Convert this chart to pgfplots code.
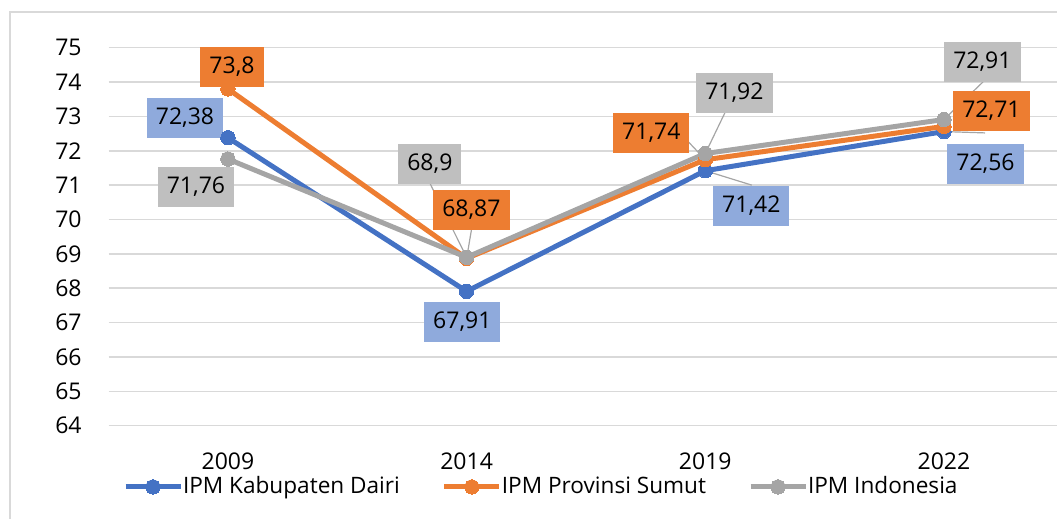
\documentclass[border=0pt]{standalone}
\usepackage{pgfplots}
\pgfplotsset{compat=1.18}
\usepackage{fontspec}
\setmainfont{Open Sans}
\definecolor{cblue}{HTML}{4472C4}
\definecolor{corange}{HTML}{ED7D31}
\definecolor{cgray}{HTML}{A5A5A5}
\definecolor{lblue}{HTML}{8FAADC}
\definecolor{lgray}{HTML}{BFBFBF}
\definecolor{gridc}{HTML}{D9D9D9}
\begin{document}
\fontsize{11.5pt}{13pt}\selectfont
\begin{tikzpicture}
\useasboundingbox (-54.3pt,-46.65pt) rectangle (474.2pt,212.85pt);
\draw[color=gridc, line width=0.75pt] (-49.3pt,-60pt) -- (-49.3pt,206.85pt) -- (500pt,206.85pt);
\begin{axis}[
  scale only axis,
  width=477.35pt, height=189pt,
  xmin=-0.5, xmax=3.5, ymin=64, ymax=75,
  ytick={64,65,...,75},
  xtick={0,1,2,3}, xticklabels={2009,2014,2019,2022},
  axis line style={draw=none},
  major tick length=0pt,
  ymajorgrids, grid style={color=gridc, line width=0.75pt},
  /pgf/number format/assume math mode=true,
  tick label style={font=\fontsize{11.5pt}{13pt}\selectfont},
  xticklabel style={inner sep=0pt, anchor=north, yshift=-13.5pt},
  yticklabel style={inner sep=0pt, anchor=east, xshift=-13.3pt},
  legend columns=3,
  legend style={draw=none, fill=none, inner sep=0pt, outer sep=0pt,
    at={(axis description cs:0.0151,-0.162)}, anchor=west,
    column sep=0pt,
    /tikz/every even column/.append style={column sep=21pt},
    nodes={inner sep=0pt},
    font=\fontsize{11.3pt}{13pt}\selectfont},
  legend image code/.code={\draw[mark repeat=2,mark phase=2,#1] plot coordinates {(0pt,0pt)(13.75pt,0pt)(27.5pt,0pt)};},
  every axis plot/.append style={line width=2.5pt, mark=*, mark size=3.6pt},
  clip=false,
]
% leader lines
\draw[cgray, line width=0.6pt] (axis cs:0.846,71.06) -- (axis cs:1,68.9);
\draw[cgray, line width=0.6pt] (axis cs:1.02,69.69) -- (axis cs:1.0,68.87);
\draw[cgray, line width=0.6pt] (axis cs:1.844,72.52) -- (axis cs:1.894,72.52) -- (axis cs:2,71.74);
\draw[cgray, line width=0.6pt] (axis cs:2.122,73.68) -- (axis cs:2,71.92);
\draw[cgray, line width=0.6pt] (axis cs:2.195,71.0) -- (axis cs:2,71.42);
\draw[cgray, line width=0.6pt] (axis cs:3.163,74.0) -- (axis cs:3,72.91);
\draw[cgray, line width=0.6pt] (axis cs:3.172,72.52) -- (axis cs:3,72.56);

\addplot[cblue, mark options={fill=cblue, draw=cblue, line width=0pt}] coordinates {(0,72.38) (1,67.91) (2,71.42) (3,72.56)};
\addlegendentry{IPM Kabupaten Dairi}
\addplot[corange, mark options={fill=corange, draw=corange, line width=0pt}] coordinates {(0,73.8) (1,68.87) (2,71.74) (3,72.71)};
\addlegendentry{IPM Provinsi Sumut}
\addplot[cgray, mark options={fill=cgray, draw=cgray, line width=0pt}] coordinates {(0,71.76) (1,68.9) (2,71.92) (3,72.91)};
\addlegendentry{IPM Indonesia}

\tikzset{lab/.style={inner xsep=4.5pt, minimum height=20pt, text=black, font=\fontsize{11.5pt}{13pt}\selectfont}}
\node[lab, fill=corange] at (axis cs:0.017,74.44) {73,8};
\node[lab, fill=lblue] at (axis cs:-0.18,72.95) {72,38};
\node[lab, fill=lgray] at (axis cs:-0.134,70.95) {71,76};
\node[lab, fill=lgray] at (axis cs:0.846,71.63) {68,9};
\node[lab, fill=corange] at (axis cs:1.02,70.28) {68,87};
\node[lab, fill=lblue] at (axis cs:0.982,67.02) {67,91};
\node[lab, fill=corange] at (axis cs:1.774,72.52) {71,74};
\node[lab, fill=lgray] at (axis cs:2.122,73.68) {71,92};
\node[lab, fill=lblue] at (axis cs:2.193,70.39) {71,42};
\node[lab, fill=lgray] at (axis cs:3.161,74.58) {72,91};
\node[lab, fill=corange] at (axis cs:3.199,73.16) {72,71};
\node[lab, fill=lblue] at (axis cs:3.174,71.62) {72,56};
\end{axis}
\end{tikzpicture}
\end{document}
